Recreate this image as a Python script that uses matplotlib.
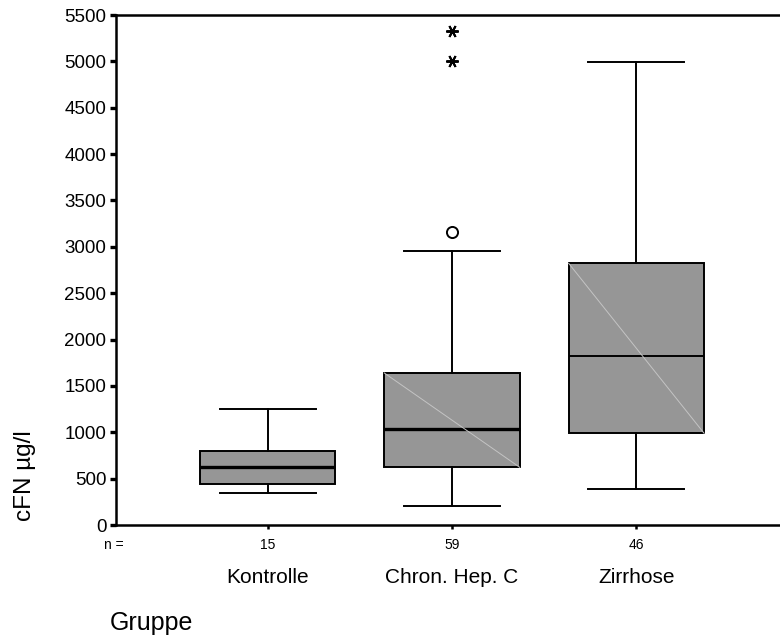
import matplotlib.pyplot as plt
from matplotlib.lines import Line2D

plt.rcParams["font.family"] = ["Liberation Sans", "DejaVu Sans"]

# Gruppen und Boxplot-Kennwerte (cFN in µg/l)
groups = ["Kontrolle", "Chron. Hep. C", "Zirrhose"]
counts = [15, 59, 46]
q1 = [445, 622, 989]
median = [622, 1032, 1823]
q3 = [798, 1640, 2823]
whisker_low = [342, 208, 385]
whisker_high = [1248, 2956, 4995]
outliers = [[], [3160], []]
extremes = [[], [5000, 5328], []]
y_ticks = [0, 500, 1000, 1500, 2000, 2500, 3000, 3500, 4000, 4500, 5000, 5500]

positions = [1, 2, 3]

fig = plt.figure(figsize=(7.8, 6.39), dpi=100)
# Achse reicht rechts ueber den Bildrand hinaus
ax = fig.add_axes([116 / 780, 1 - 525 / 639, 690 / 780, 510 / 639])

stats = []
for i, g in enumerate(groups):
    stats.append({
        "label": g,
        "q1": q1[i],
        "med": median[i],
        "q3": q3[i],
        "whislo": whisker_low[i],
        "whishi": whisker_high[i],
        "fliers": outliers[i],
    })

bp = ax.bxp(
    stats,
    positions=positions,
    widths=0.735,
    capwidths=0.52,
    patch_artist=True,
    boxprops=dict(facecolor="#969696", edgecolor="black", linewidth=1.4),
    whiskerprops=dict(color="black", linewidth=1.4),
    capprops=dict(color="black", linewidth=1.4),
    medianprops=dict(color="black", linewidth=2.4),
    flierprops=dict(marker="o", markersize=8, markerfacecolor="none",
                    markeredgecolor="black", markeredgewidth=1.4),
    zorder=3,
)
bp["medians"][2].set_linewidth(1.4)

# feine helle Diagonale in den grossen Boxen
for i in [1, 2]:
    half = 0.735 / 2
    ax.add_line(Line2D([positions[i] - half, positions[i] + half], [q3[i], q1[i]],
                       color="#c4c4c4", linewidth=0.7, zorder=4))

# Extremwerte als Sternchen
for i, vals in enumerate(extremes):
    if vals:
        ax.plot([positions[i]] * len(vals), vals, linestyle="none",
                marker=(6, 2, 30), markersize=9, markeredgewidth=1.4,
                color="black", zorder=5)

ax.set_xlim(0.178, 3.92)
ax.set_ylim(0, 5500)
ax.set_yticks(y_ticks)
ax.set_yticklabels([str(t) for t in y_ticks], fontsize=13.5)
ax.set_xticks(positions)
ax.set_xticklabels([])

ax.tick_params(axis="y", direction="out", length=4, width=2.4, pad=3)
ax.tick_params(axis="x", direction="out", length=3, width=1.8)

for side in ["left", "bottom", "top"]:
    ax.spines[side].set_linewidth(1.8)
ax.spines["right"].set_visible(False)

xt = ax.get_xaxis_transform()
ax.annotate("n =", xy=(0.168, 0), xycoords=xt, xytext=(0, -14.4),
            textcoords="offset points", ha="center", va="center", fontsize=10)
for p, n, g in zip(positions, counts, groups):
    ax.annotate(str(n), xy=(p, 0), xycoords=xt, xytext=(0, -14.4),
                textcoords="offset points", ha="center", va="center", fontsize=10)
    ax.annotate(g, xy=(p, 0), xycoords=xt, xytext=(0, -37.5),
                textcoords="offset points", ha="center", va="center", fontsize=15)

fig.text(25 / 780, 1 - 476 / 639, "cFN µg/l", rotation=90, ha="center",
         va="center", fontsize=17.5)
fig.text(110 / 780, 1 - 623 / 639, "Gruppe", ha="left", va="center", fontsize=18)

fig.savefig("out.png", dpi=100)
